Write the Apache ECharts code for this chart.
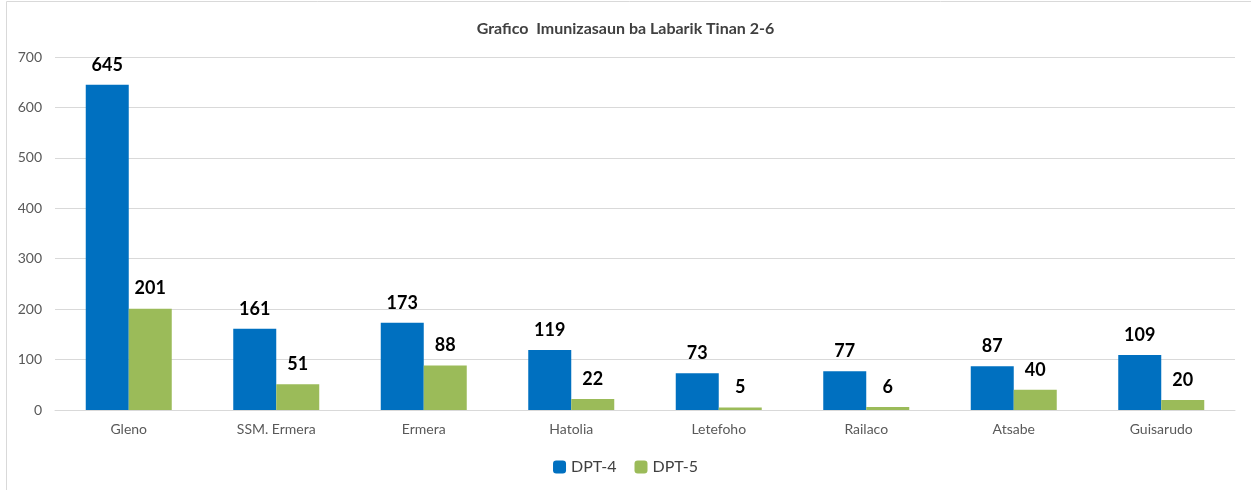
<!DOCTYPE html>
<html>
<head>
<meta charset="utf-8">
<script src="https://cdn.jsdelivr.net/npm/echarts@6/dist/echarts.min.js"></script>
<style>
  html, body { margin: 0; padding: 0; background: #fff; }
  #chart { width: 1251px; height: 490px; }
</style>
</head>
<body>
<div id="chart"></div>
<script>
const categories = ['Gleno', 'SSM. Ermera', 'Ermera', 'Hatolia', 'Letefoho', 'Railaco', 'Atsabe', 'Guisarudo']
const dpt4 = [645, 161, 173, 119, 73, 77, 87, 109]
const dpt5 = [201, 51, 88, 22, 5, 6, 40, 20]

const fontFamily = 'Lato, "Open Sans", sans-serif'
const chart = echarts.init(document.getElementById('chart'))

const valueLabel = {
  show: true,
  position: 'top',
  distance: 11,
  color: '#000',
  fontSize: 18,
  fontWeight: 'bold',
  fontFamily: fontFamily,
}

chart.setOption({
  animation: false,
  textStyle: { fontFamily: fontFamily },
  graphic: [
    {
      type: 'rect',
      shape: { x: 6.5, y: 1.5, width: 1400, height: 700 },
      style: { fill: 'none', stroke: '#d9d9d9', lineWidth: 1 },
      silent: true,
    },
  ],
  title: {
    text: 'Grafico  Imunizasaun ba Labarik Tinan 2-6',
    left: 'center',
    top: 16,
    textStyle: { color: '#404040', fontSize: 16, fontWeight: 'bold', fontFamily: fontFamily },
  },
  legend: {
    bottom: 10,
    left: 'center',
    itemWidth: 13,
    itemHeight: 13,
    itemGap: 18,
    textStyle: { color: '#404040', fontSize: 16, fontFamily: fontFamily },
    data: ['DPT-4', 'DPT-5'],
  },
  grid: { left: 55, right: 16, top: 57, bottom: 80, containLabel: false },
  xAxis: {
    type: 'category',
    data: categories,
    axisTick: { show: false },
    axisLine: { lineStyle: { color: '#d9d9d9' } },
    axisLabel: { color: '#595959', fontSize: 14, margin: 12 },
  },
  yAxis: {
    type: 'value',
    min: 0,
    max: 700,
    interval: 100,
    axisLine: { show: false },
    axisTick: { show: false },
    axisLabel: { color: '#595959', fontSize: 14, margin: 13 },
    splitLine: { lineStyle: { color: '#d9d9d9' } },
  },
  series: [
    {
      name: 'DPT-4',
      type: 'bar',
      data: dpt4,
      barWidth: 43,
      barGap: '0%',
      itemStyle: { color: '#0070C0' },
      label: valueLabel,
    },
    {
      name: 'DPT-5',
      type: 'bar',
      data: dpt5,
      barWidth: 43,
      itemStyle: { color: '#9BBB59' },
      label: valueLabel,
    },
  ],
})
</script>
</body>
</html>
